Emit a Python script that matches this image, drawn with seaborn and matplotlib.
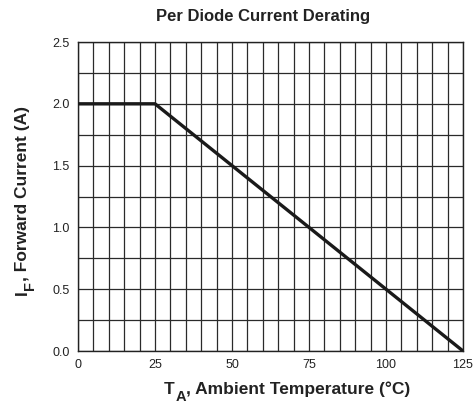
import matplotlib
matplotlib.use("Agg")
import matplotlib.pyplot as plt
import seaborn as sns
import numpy as np
import pandas as pd

temps = [0, 25, 125]
current = [2.0, 2.0, 0.0]
x_ticks = [0, 25, 50, 75, 100, 125]
y_ticks = [0.0, 0.5, 1.0, 1.5, 2.0, 2.5]
title = "Per Diode Current Derating"
xlabel_parts = ["T", "A", ", Ambient Temperature (°C)"]
ylabel_parts = ["I", "F", ", Forward Current (A)"]

sns.set_theme(style="white")
plt.rcParams['font.family'] = ['Liberation Sans', 'DejaVu Sans']

W, H = 477, 408
df = pd.DataFrame({"T": temps, "I": current})

fig = plt.figure(figsize=(W/100, H/100), dpi=100)
ax = fig.add_axes([78/W, 1-351/H, (463-78)/W, (351-42)/H])

ax.set_xlim(0, 125)
ax.set_ylim(0, 2.5)
ax.set_xticks(np.arange(0, 126, 5), minor=True)
ax.set_yticks(np.arange(0, 2.51, 0.25), minor=True)
ax.set_xticks(x_ticks)
ax.set_yticks(y_ticks)
ax.set_xticklabels([str(t) for t in x_ticks], fontsize=9, color='#222222')
ax.set_yticklabels([f"{t:.1f}" for t in y_ticks], fontsize=9, color='#222222')
ax.grid(True, which='both', color='#2a2a2a', linewidth=0.9)
ax.set_axisbelow(True)
ax.tick_params(axis='both', which='major', direction='out', length=4, width=0.9, color='#222222', pad=2)
ax.tick_params(axis='both', which='minor', length=0)
for s in ax.spines.values():
    s.set_color('#222222')
    s.set_linewidth(1.0)

sns.lineplot(data=df, x="T", y="I", ax=ax, color='#1a1a1a', linewidth=2.4, zorder=5)
ax.set_xlabel("")
ax.set_ylabel("")

col = '#222222'
big, small = 12.5, 10.5

# x label with large, lowered subscript
xb = 1 - 394/H
t1 = fig.text(164/W, xb, xlabel_parts[0], fontsize=big, fontweight='bold', color=col,
              ha='left', va='baseline')
t2 = fig.add_artist(matplotlib.text.Annotation(
    xlabel_parts[1], xy=(1, 1 - 401/H), xycoords=(t1, 'figure fraction'),
    xytext=(0.3, 0), textcoords='offset points',
    fontsize=small, fontweight='bold', color=col, ha='left', va='baseline'))
t3 = fig.add_artist(matplotlib.text.Annotation(
    xlabel_parts[2], xy=(1, xb), xycoords=(t2, 'figure fraction'),
    fontsize=big, fontweight='bold', color=col, ha='left', va='baseline'))

# y label, rotated
yb = 27/W
u1 = fig.text(yb, 1 - 295/H, ylabel_parts[0], fontsize=big, fontweight='bold', color=col,
              rotation=90, rotation_mode='anchor', ha='left', va='baseline')
u2 = fig.add_artist(matplotlib.text.Annotation(
    ylabel_parts[1], xy=(34/W, 1), xycoords=('figure fraction', u1),
    xytext=(0, 0.3), textcoords='offset points',
    fontsize=small, fontweight='bold', color=col, rotation=90, rotation_mode='anchor',
    ha='left', va='baseline'))
u3 = fig.add_artist(matplotlib.text.Annotation(
    ylabel_parts[2], xy=(yb, 1), xycoords=('figure fraction', u2),
    fontsize=big, fontweight='bold', color=col, rotation=90, rotation_mode='anchor',
    ha='left', va='baseline'))

fig.text(263/W, 1 - 17/H, title, ha='center', va='center', fontsize=12, fontweight='bold', color=col)

fig.savefig("out.png", dpi=100)
